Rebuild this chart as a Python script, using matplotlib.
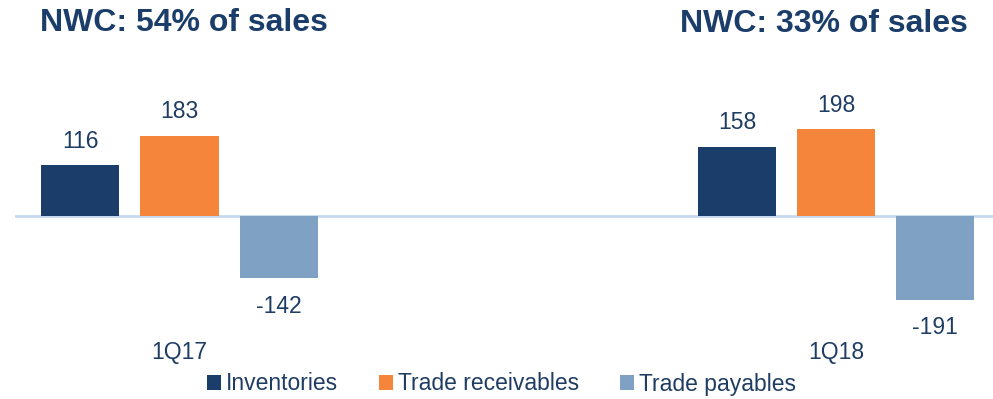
import matplotlib.pyplot as plt
import numpy as np

plt.rcParams['font.family'] = ['Liberation Sans', 'DejaVu Sans']

periods = ["1Q17", "1Q18"]
series = ["Inventories", "Trade receivables", "Trade payables"]
inventories = [116, 158]
receivables = [183, 198]
payables = [-142, -191]
titles = ["NWC: 54% of sales", "NWC: 33% of sales"]

colors = ["#1B3D69", "#F5853B", "#7FA2C4"]
text_color = "#1F3D63"

fig = plt.figure(figsize=(9.93, 3.99), dpi=100)
ax = fig.add_axes([15/993, 0, 978/993, 1])

x = np.arange(len(periods))
width = 0.119
step = 0.151
values = [inventories, receivables, payables]

for i, (name, vals) in enumerate(zip(series, values)):
    pos = x + (i - 1) * step
    ax.bar(pos, vals, width, color=colors[i], label=name, zorder=2)
    for px, v in zip(pos, vals):
        off = 9 if v >= 0 else -12
        ax.annotate(str(v), (px, v), xytext=(0, off), textcoords="offset points",
                    ha="center", va="bottom" if v >= 0 else "top",
                    fontsize=16.5, color=text_color)

ax.axhline(0, color="#C6D9F0", linewidth=2, zorder=1)

for xi, p in zip(x, periods):
    ax.text(xi, 1 - 352/399, p, transform=ax.get_xaxis_transform(),
            ha="center", va="center", fontsize=16.5, color=text_color)

ax.set_xlim(-0.2506, 1.2391)
ax.set_ylim(-417, 492)
ax.axis("off")

fig.text(40/993, 1 - 23/399, titles[0], ha="left", va="center",
         fontsize=23, fontweight="bold", color="#1B3D69")
fig.text(968/993, 1 - 24/399, titles[1], ha="right", va="center",
         fontsize=23, fontweight="bold", color="#1B3D69")

leg = fig.legend(loc="center", bbox_to_anchor=(0.505, 1 - 384/399), ncol=3,
                 frameon=False, fontsize=16.5, handlelength=0.62, handleheight=0.62,
                 handletextpad=0.2, columnspacing=1.8, borderpad=0)
for t in leg.get_texts():
    t.set_color(text_color)

fig.savefig("out.png", dpi=100)
